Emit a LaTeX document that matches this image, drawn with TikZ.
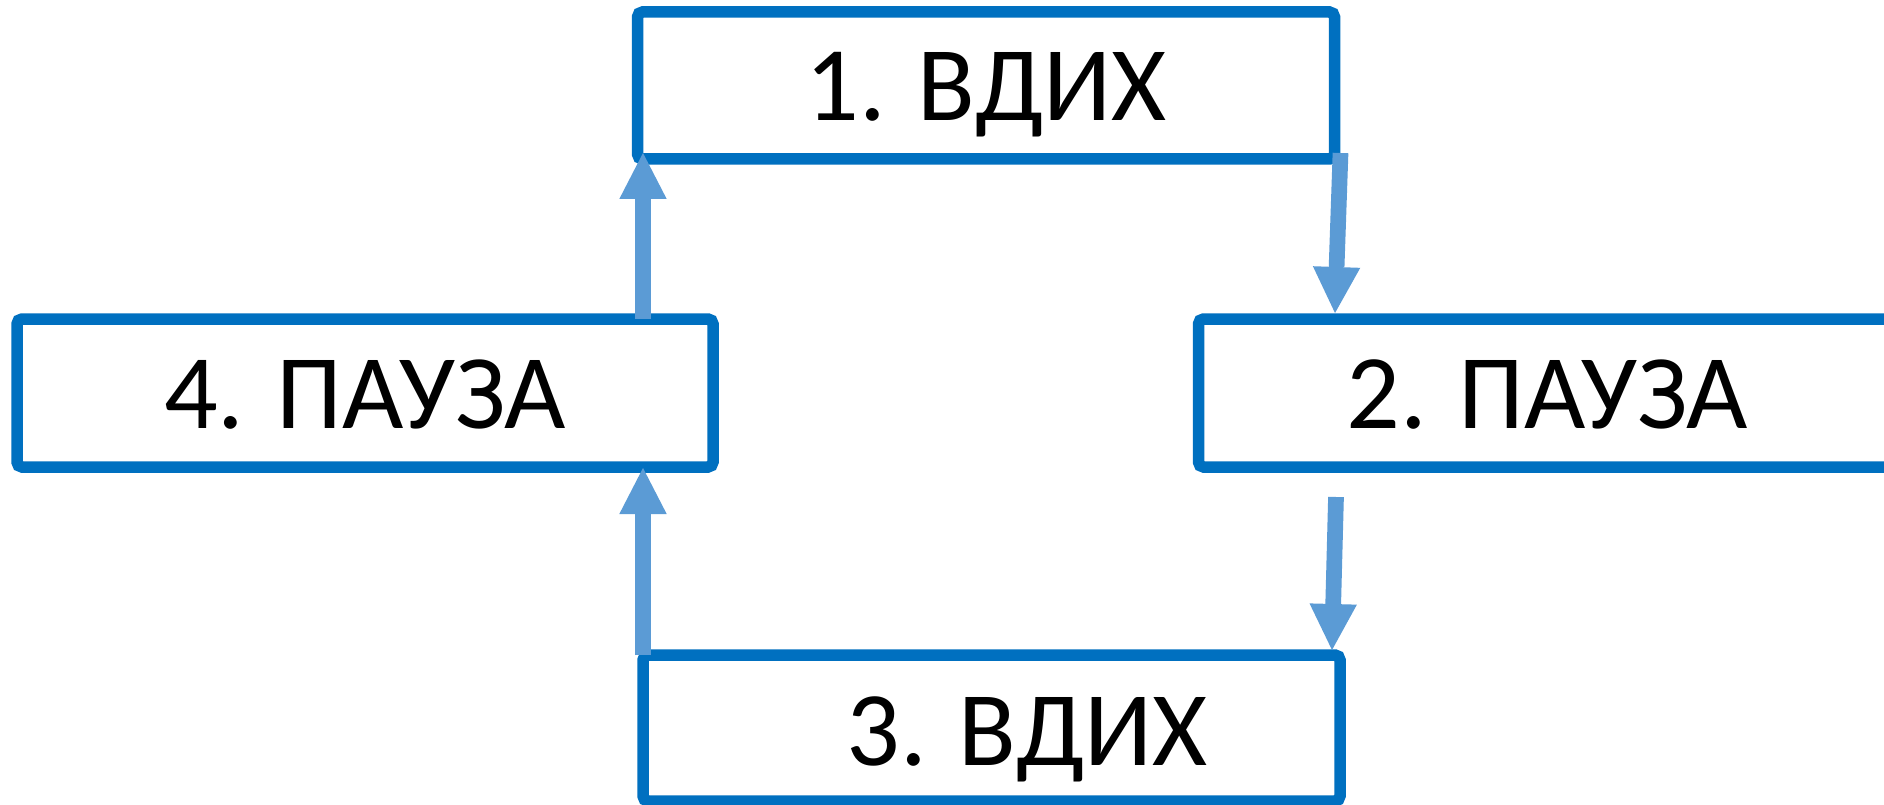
\documentclass[tikz,border=0pt]{standalone}
\usepackage{fontspec}
\setmainfont{Carlito}
\usetikzlibrary{arrows.meta}
\definecolor{boxblue}{HTML}{0070C0}
\definecolor{arrblue}{HTML}{5B9BD5}
\begin{document}
\begin{tikzpicture}[x=1pt,y=-1pt,
  box/.style={draw=boxblue, line width=11.5pt, rounded corners=5pt, rectangle,
    inner sep=0pt, minimum width=697pt, minimum height=147pt,
    font=\fontsize{106}{127}\selectfont, text height=71pt, text depth=0pt},
  conn/.style={draw=arrblue, line width=15.7pt,
    -{Triangle[width=47.4pt,length=46pt,line width=0pt]}}]
\useasboundingbox (0,0) rectangle (1884,805);
\clip (0,0) rectangle (1884,805);
\fill[white] (0,0) rectangle (1884,805);
\node[box] (b1) at (986,85.5) {1. ВДИХ};
\node[box, minimum width=696pt, minimum height=148pt] (b4) at (365,393) {4. ПАУЗА};
\node[box, minimum height=148pt] (b2) at (1547,393) {2. ПАУЗА};
\node[box, minimum height=146pt, text height=75pt] (b3) at (991.5,728) {\hspace*{71pt}3. ВДИХ};
\coordinate (s41) at (643,319);
\coordinate (e41) at (643,153);
\coordinate (s34) at (643,655);
\coordinate (e34) at (643,468);
\coordinate (s12) at (1340.5,153);
\coordinate (e12) at (1335,313);
\coordinate (s23) at (1336,497);
\coordinate (e23) at (1332,650);
\draw[conn] (s41) -- (e41);
\draw[conn] (s34) -- (e34);
\draw[conn] (s12) -- (e12);
\draw[conn] (s23) -- (e23);
\end{tikzpicture}
\end{document}
